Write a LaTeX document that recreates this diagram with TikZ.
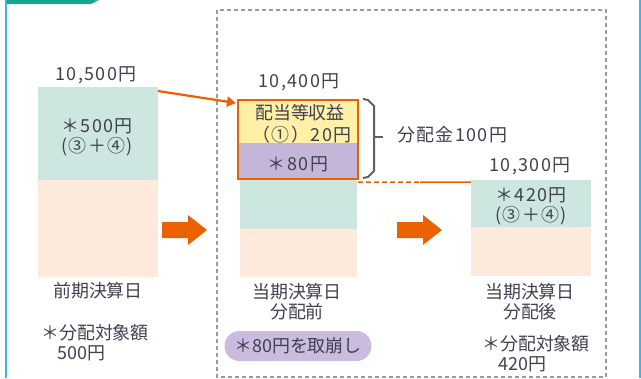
\documentclass[tikz,border=0pt]{standalone}
\usepackage{fontspec}
\setmainfont{Noto Sans CJK JP}
\newfontfamily\numfont[LetterSpace=8]{Noto Sans CJK JP}
\usetikzlibrary{arrows.meta}
\definecolor{tealbox}{HTML}{CDE6DF}
\definecolor{peach}{HTML}{FDEADD}
\definecolor{yel}{HTML}{FFF0A8}
\definecolor{purp}{HTML}{C5B5D9}
\definecolor{pill}{HTML}{CBBCDF}
\definecolor{orng}{HTML}{EB6100}
\definecolor{txt}{HTML}{404050}
\definecolor{bord}{HTML}{3AB4EA}
\definecolor{topbar}{HTML}{12A88E}
\definecolor{dashgray}{HTML}{9A9A9A}
\definecolor{brgray}{HTML}{606060}
\begin{document}
\begin{tikzpicture}[x=1bp,y=-1bp,
  every node/.style={inner sep=0pt,outer sep=0pt,text=txt,font=\fontsize{18}{20}\selectfont},
  barbox/.style={anchor=north west,rectangle},
  lbl/.style={align=center},
  numlbl/.style={align=center,font=\fontsize{18}{20}\numfont},
  blockarrow/.style={fill=orng,draw=none}]
\useasboundingbox (0,0) rectangle (641,378);
% frame
\fill[topbar] (5,0) -- (100,0) to[out=180,in=0] (90,4) -- (5,4) -- cycle;
\draw[bord,line width=2bp] (5.5,0) -- (5.5,378);
\draw[bord,line width=2bp] (640,0) -- (640,378);
\draw[dashgray,line width=1.2bp,dash pattern=on 4bp off 3bp] (217,10) rectangle (606,377);
% left bar
\node[barbox,fill=tealbox,minimum width=120bp,minimum height=93bp] (lt) at (38,87) {};
\node[barbox,fill=peach,minimum width=120bp,minimum height=97bp] (lp) at (38,180) {};
\node[numlbl] (lv) at (96,75) {10,500円};
\node[numlbl] (lx) at (97,137) {＊500円\\(③＋④)};
\node[lbl] (ld) at (98,291) {前期決算日};
\node[align=left] (ln) at (95,343) {＊分配対象額\\\hspace{16bp}500円};
% middle bar
\node[barbox,fill=tealbox,minimum width=117bp,minimum height=50bp] (mt) at (240,179) {};
\node[barbox,fill=peach,minimum width=117bp,minimum height=48bp] (mp) at (240,229) {};
\node[barbox,fill=yel,minimum width=120bp,minimum height=43bp] (my) at (238,100) {};
\node[barbox,fill=purp,minimum width=120bp,minimum height=36bp] (mq) at (238,143) {};
\node[draw=orng,line width=2.5bp,anchor=north west,minimum width=120bp,minimum height=79bp] (mb) at (238,100) {};
\node[numlbl] (mv) at (299,82) {10,400円};
\node[lbl] (my1) at (300,113) {配当等収益};
\node[numlbl] (my2) at (302,135) {（①）20円};
\node[numlbl] (mq1) at (298,164) {＊80円};
\node[lbl] (md) at (297,302) {当期決算日\\分配前};
\node[fill=pill,rounded corners=15bp,minimum width=147bp,minimum height=30bp] (pl) at (298,346) {＊80円を取崩し};
% bracket
\draw[brgray,line width=2bp,line join=round] (363,99) -- (368,100) -- (374,106) -- (374,171) -- (368,177) -- (363,178);
\coordinate (bt) at (374,137);
\node[anchor=west,font=\fontsize{18}{20}\numfont] (dist) at (397,135) {分配金100円};
\draw[brgray,line width=2bp] (bt) -- (383,137);
% right bar
\node[barbox,fill=tealbox,minimum width=120bp,minimum height=47bp] (rt) at (471,180) {};
\node[barbox,fill=peach,minimum width=120bp,minimum height=49bp] (rp) at (471,227) {};
\node[numlbl] (rv) at (530,166) {10,300円};
\node[numlbl] (rx) at (531,206) {＊420円\\(③＋④)};
\node[lbl] (rd) at (530,302) {当期決算日\\分配後};
\node[align=left] (rn) at (536,354) {＊分配対象額\\\hspace{16bp}420円};
% connectors
\draw[orng,line width=2.2bp,-{Triangle[length=9bp,width=10bp]}] ([yshift=-4bp]lt.north east) -- ([xshift=-2bp,yshift=-3bp]mb.north west);
\coordinate (dm) at (420,182);
\draw[orng,line width=1.5bp,dash pattern=on 5bp off 3bp] ([yshift=-3bp]mb.south east) -- (dm);
\draw[orng,line width=1.5bp] (dm) -- ([yshift=-2bp]rt.north west);
% block arrows
\fill[blockarrow] (162,222) -- (188,222) -- (188,215) -- (207,230) -- (188,245) -- (188,238) -- (162,238) -- cycle;
\fill[blockarrow] (397,222) -- (423,222) -- (423,215) -- (442,230) -- (423,245) -- (423,238) -- (397,238) -- cycle;
\end{tikzpicture}
\end{document}
